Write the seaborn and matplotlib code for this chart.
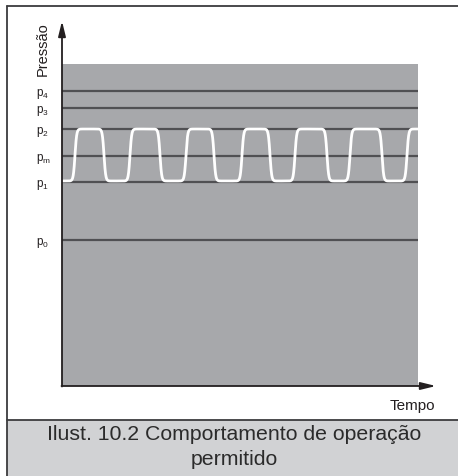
import numpy as np
import pandas as pd
import matplotlib.pyplot as plt
import seaborn as sns

sns.set_style('white')
plt.rcParams['font.family'] = ['Liberation Sans', 'DejaVu Sans']
plt.rcParams['mathtext.fontset'] = 'custom'
plt.rcParams['mathtext.rm'] = 'Liberation Sans'

# níveis de pressão (unidades do gráfico, 0 = eixo do tempo)
level_names = ['p$_\\mathregular{0}$', 'p$_\\mathregular{1}$', 'p$_\\mathregular{m}$',
               'p$_\\mathregular{2}$', 'p$_\\mathregular{3}$', 'p$_\\mathregular{4}$']
level_values = [146, 204, 230, 257, 278, 295]

# zona cinzenta
zone_right = 356
zone_top = 322

# curva de pressão: flancos de subida / descida
wave_low = 205
wave_high = 257
rise_t = [13, 68, 124, 180, 233, 288, 345]
fall_t = [42, 98, 152, 208, 265, 320]

ink = '#231f20'

t = np.linspace(0, zone_right, 3000)
step = np.zeros_like(t)
for r in rise_t:
    step += 0.5 * (1 + np.tanh((t - r) / 1.7))
for f in fall_t:
    step -= 0.5 * (1 + np.tanh((t - f) / 1.7))
wave = pd.DataFrame({'Tempo': t, 'Pressão': wave_low + (wave_high - wave_low) * step})

W, H = 458, 477
fig = plt.figure(figsize=(W / 100, H / 100), dpi=100)

# moldura e legenda da ilustração
bg = fig.add_axes([0, 0, 1, 1])
bg.set_xlim(0, W)
bg.set_ylim(H, 0)
bg.axis('off')
bg.fill_between([7, W], 421, H, color='#d1d2d4', lw=0)
bg.plot([7, 7], [7, H], color='#3c3c3e', lw=1.3)
bg.plot([7, W], [7, 7], color='#3c3c3e', lw=1.3)
bg.plot([7, W], [421, 421], color='#3c3c3e', lw=1.3)
bg.text(234, 435, 'Ilust. 10.2 Comportamento de operação', ha='center', va='center',
        fontsize=15.3, color='#2b2b2b')
bg.text(234, 460, 'permitido', ha='center', va='center', fontsize=15.3, color='#2b2b2b')

# gráfico
ax = fig.add_axes([62 / W, (H - 387) / H, (436 - 62) / W, (387 - 22) / H])
ax.patch.set_alpha(0)
ax.set_xlim(0, 374)
ax.set_ylim(0, 365)
ax.axis('off')

ax.fill_between([0, zone_right], 0, zone_top, color='#a7a8ab', lw=0, zorder=1)
ax.hlines(level_values, 0, zone_right, color='#505053', lw=1.6, zorder=2)
sns.lineplot(data=wave, x='Tempo', y='Pressão', ax=ax, color='white', lw=2.0,
             zorder=3, legend=False)

for name, v in zip(level_names, level_values):
    ax.text(-26, v - 2, name, ha='left', va='center', fontsize=8.5, color=ink, clip_on=False)

ax.annotate('', xy=(0, 365), xytext=(0, -0.5),
            arrowprops=dict(arrowstyle='-|>,head_length=0.9,head_width=0.22',
                            color=ink, lw=1.3, shrinkA=0, shrinkB=0), zorder=4)
ax.annotate('', xy=(374, 0), xytext=(-0.5, 0),
            arrowprops=dict(arrowstyle='-|>,head_length=0.9,head_width=0.22',
                            color=ink, lw=1.3, shrinkA=0, shrinkB=0), zorder=4)

ax.text(-19, 338, 'Pressão', rotation=90, ha='center', va='center', fontsize=10.5,
        color=ink, clip_on=False)
ax.text(373, -19, 'Tempo', ha='right', va='center', fontsize=11, color=ink, clip_on=False)

fig.savefig('out.png', dpi=100)
